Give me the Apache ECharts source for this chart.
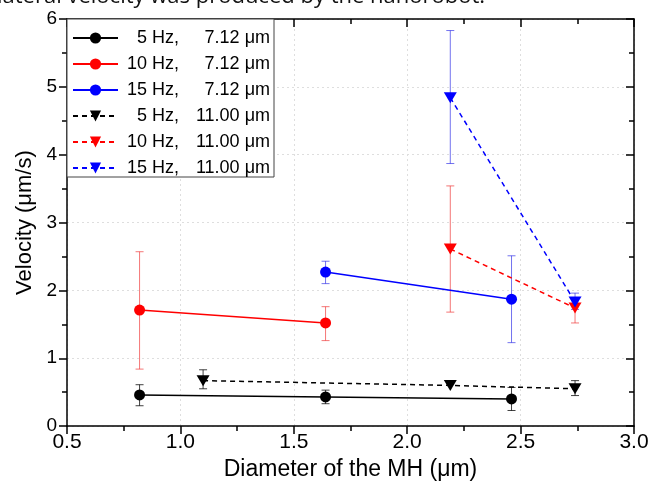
<!DOCTYPE html>
<html><head><meta charset="utf-8">
<script src="https://cdn.jsdelivr.net/npm/echarts@6/dist/echarts.min.js"></script>
<style>html,body{margin:0;padding:0;background:#fff}#c{width:652px;height:486px}</style>
</head><body><div id="c"></div>
<script>
// ---- data ----
const captionText = 'lateral velocity was produced by the nanorobot.';
const xTitle = 'Diameter of the MH (\u03bcm)';
const yTitle = 'Velocity (\u03bcm/s)';

const xA = [0.82, 1.64, 2.46];           // 7.12 um helix
const xB = [1.10, 2.19, 2.74];           // 11.00 um helix

const v5_712  = [0.46, 0.43, 0.40];
const lo5_712 = [0.30, 0.33, 0.23];
const hi5_712 = [0.61, 0.53, 0.57];

const x10_712  = [0.82, 1.64];
const v10_712  = [1.71, 1.52];
const lo10_712 = [0.84, 1.26];
const hi10_712 = [2.57, 1.76];

const x15_712  = [1.64, 2.46];
const v15_712  = [2.27, 1.87];
const lo15_712 = [2.10, 1.23];
const hi15_712 = [2.43, 2.51];

const v5_11  = [0.67, 0.60, 0.55];
const lo5_11 = [0.55, null, 0.45];
const hi5_11 = [0.83, null, 0.67];

const x10_11  = [2.19, 2.74];
const v10_11  = [2.61, 1.74];
const lo10_11 = [1.68, 1.52];
const hi10_11 = [3.54, 1.85];

const x15_11  = [2.19, 2.74];
const v15_11  = [4.84, 1.83];
const lo15_11 = [3.87, 1.72];
const hi15_11 = [5.83, 1.96];

const seriesNames = ['5 Hz,|7.12 \u03bcm','10 Hz,|7.12 \u03bcm','15 Hz,|7.12 \u03bcm',
                     '5 Hz,|11.00 \u03bcm','10 Hz,|11.00 \u03bcm','15 Hz,|11.00 \u03bcm'];
const xMin = 0.5, xMax = 3.0, xStep = 0.5;
const yMin = 0, yMax = 6, yStep = 1;

// ---- build ----
const FONT = 'Liberation Sans, Arial, sans-serif';
const zip = (xs, ys) => xs.map((x, i) => [x, ys[i]]);
const zipErr = (xs, lo, hi) => xs.map((x, i) => [x, lo[i], hi[i]]).filter(d => d[1] != null);

const defs = [
  {name: seriesNames[0], x: xA, v: v5_712, lo: lo5_712, hi: hi5_712, color: '#000000', err: 'rgba(0,0,0,0.75)', sym: 'circle', dash: 'solid'},
  {name: seriesNames[1], x: x10_712, v: v10_712, lo: lo10_712, hi: hi10_712, color: '#ff0000', err: 'rgba(240,60,60,0.7)', sym: 'circle', dash: 'solid'},
  {name: seriesNames[2], x: x15_712, v: v15_712, lo: lo15_712, hi: hi15_712, color: '#0000ff', err: 'rgba(40,40,230,0.65)', sym: 'circle', dash: 'solid'},
  {name: seriesNames[3], x: xB, v: v5_11, lo: lo5_11, hi: hi5_11, color: '#000000', err: 'rgba(0,0,0,0.75)', sym: 'triangle', dash: [5, 4]},
  {name: seriesNames[4], x: x10_11, v: v10_11, lo: lo10_11, hi: hi10_11, color: '#ff0000', err: 'rgba(240,60,60,0.7)', sym: 'triangle', dash: [5, 4]},
  {name: seriesNames[5], x: x15_11, v: v15_11, lo: lo15_11, hi: hi15_11, color: '#0000ff', err: 'rgba(40,40,230,0.65)', sym: 'triangle', dash: [5, 4]}
];

function errRender(color) {
  return function (params, api) {
    const x = api.value(0), lo = api.value(1), hi = api.value(2);
    const a = api.coord([x, lo]), b = api.coord([x, hi]);
    const w = 4;
    const st = {stroke: color, lineWidth: 1, fill: null};
    return {type: 'group', children: [
      {type: 'line', shape: {x1: a[0], y1: a[1], x2: b[0], y2: b[1]}, style: st},
      {type: 'line', shape: {x1: a[0] - w, y1: a[1], x2: a[0] + w, y2: a[1]}, style: st},
      {type: 'line', shape: {x1: b[0] - w, y1: b[1], x2: b[0] + w, y2: b[1]}, style: st}
    ]};
  };
}

const series = [];
defs.forEach(d => {
  series.push({
    type: 'custom', name: d.name + '_err', renderItem: errRender(d.err),
    data: zipErr(d.x, d.lo, d.hi), z: 1, silent: true,
    encode: {x: 0, y: [1, 2]}
  });
});
defs.forEach(d => {
  series.push({
    type: 'line', name: d.name, data: zip(d.x, d.v), z: 3,
    symbol: d.sym, symbolSize: d.sym === 'circle' ? 11 : [13, 11],
    symbolRotate: d.sym === 'triangle' ? 180 : 0,
    showAllSymbol: true,
    itemStyle: {color: d.color},
    lineStyle: {color: d.color, width: 1.5, type: d.dash},
    emphasis: {disabled: true}, animation: false
  });
});

const axisCommon = {
  axisLine: {show: true, onZero: false, lineStyle: {color: '#000', width: 1.5}},
};

const option = {
  animation: false,
  backgroundColor: '#fff',
  grid: {left: 67, right: 18, top: 19, bottom: 54},
  graphic: [{
    type: 'text', left: -3, top: -14,
    style: {text: captionText, font: '22px "Open Sans", sans-serif', fill: '#111'}
  }],
  legend: {
    data: seriesNames, orient: 'vertical', left: 67, top: 19,
    padding: [10, 4, 0, 5], itemGap: 8, itemWidth: 45, itemHeight: 14,
    backgroundColor: '#fff', borderColor: '#444', borderWidth: 1,
    selectedMode: false,
    formatter: n => { const p = n.split('|'); return '{a|' + p[0] + '}{b|' + p[1] + '}'; },
    textStyle: {
      fontFamily: FONT, fontSize: 18, color: '#000', lineHeight: 18,
      rich: {
        a: {width: 56, align: 'right', fontFamily: FONT, fontSize: 18, lineHeight: 18, color: '#000'},
        b: {width: 91, align: 'right', fontFamily: FONT, fontSize: 18, lineHeight: 18, color: '#000'}
      }
    }
  },
  xAxis: [{
    type: 'value', min: xMin, max: xMax, interval: xStep, position: 'bottom',
    name: xTitle, nameLocation: 'middle', nameGap: 23,
    nameTextStyle: {fontFamily: FONT, fontSize: 23, color: '#000'},
    ...axisCommon,
    axisTick: {show: true, inside: false, length: 8, lineStyle: {color: '#000', width: 1.5}},
    minorTick: {show: true, splitNumber: 2, length: 5, lineStyle: {color: '#000', width: 1.5}},
    axisLabel: {fontFamily: FONT, fontSize: 21, color: '#000', margin: 6,
      formatter: v => v.toFixed(1), showMinLabel: true, showMaxLabel: true},
    splitLine: {show: true, lineStyle: {color: '#dedede', type: [2, 3], width: 1}}
  }, {
    type: 'value', min: xMin, max: xMax, interval: xStep, position: 'top',
    ...axisCommon,
    axisTick: {show: true, inside: true, length: 8, lineStyle: {color: '#000', width: 1.5}},
    minorTick: {show: true, splitNumber: 2, length: 5, lineStyle: {color: '#000', width: 1.5}},
    axisLabel: {show: false}, splitLine: {show: false}
  }],
  yAxis: [{
    type: 'value', min: yMin, max: yMax, interval: yStep, position: 'left',
    name: yTitle, nameLocation: 'middle', nameGap: 30, nameRotate: 90,
    nameTextStyle: {fontFamily: FONT, fontSize: 22, color: '#000'},
    ...axisCommon,
    axisTick: {show: true, inside: false, length: 8, lineStyle: {color: '#000', width: 1.5}},
    minorTick: {show: true, splitNumber: 2, length: 5, lineStyle: {color: '#000', width: 1.5}},
    axisLabel: {fontFamily: FONT, fontSize: 19, color: '#000', margin: 10},
    splitLine: {show: true, lineStyle: {color: '#dedede', type: [2, 3], width: 1}}
  }, {
    type: 'value', min: yMin, max: yMax, interval: yStep, position: 'right',
    ...axisCommon,
    axisTick: {show: true, inside: true, length: 8, lineStyle: {color: '#000', width: 1.5}},
    minorTick: {show: true, splitNumber: 2, length: 5, lineStyle: {color: '#000', width: 1.5}},
    axisLabel: {show: false}, splitLine: {show: false}
  }],
  series: series
};

const chart = echarts.init(document.getElementById('c'), null, {renderer: 'canvas'});
chart.setOption(option);
</script>
</body></html>
